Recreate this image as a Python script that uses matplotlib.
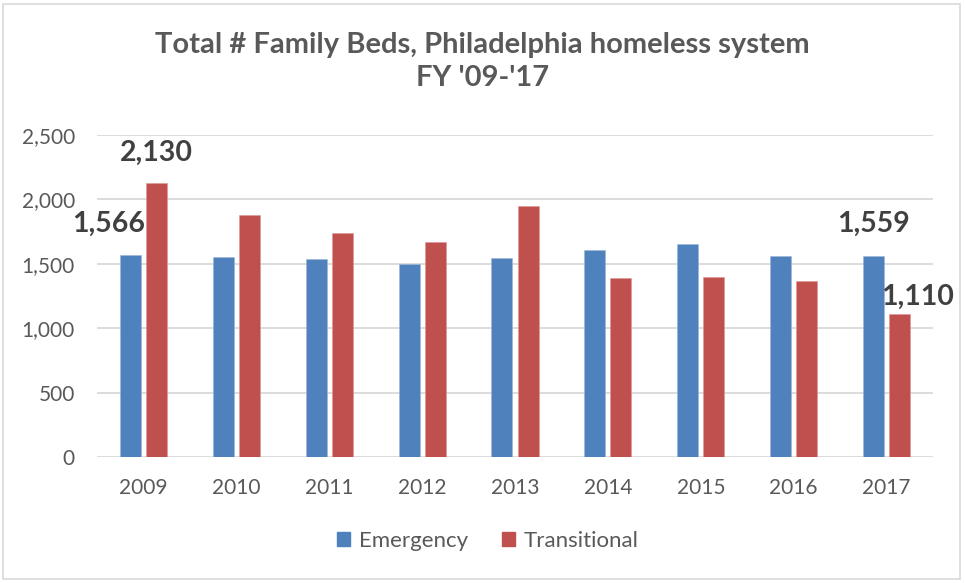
import matplotlib
matplotlib.use("Agg")
import matplotlib.pyplot as plt
import numpy as np
from matplotlib.patches import Rectangle, Patch
from matplotlib.ticker import FuncFormatter

BLUE = "#4F81BD"; RED = "#C0504D"
GREY = "#595959"; DARK = "#404040"; GRID = "#D9D9D9"
plt.rcParams["font.family"] = ["Lato", "DejaVu Sans"]

years = ["2009", "2010", "2011", "2012", "2013", "2014", "2015", "2016", "2017"]
emergency = [1566, 1549, 1534, 1495, 1542, 1604, 1653, 1562, 1559]
transitional = [2130, 1882, 1742, 1669, 1949, 1386, 1394, 1368, 1110]
series_names = ["Emergency", "Transitional"]

W, H = 965, 583
fig = plt.figure(figsize=(W / 100, H / 100), dpi=100)
fig.patch.set_facecolor("white")
fig.patches.append(Rectangle((3 / W, 4 / H), (957) / W, (575) / H, transform=fig.transFigure,
                             fill=False, ec=GRID, lw=1.2))

ax = fig.add_axes([97 / W, 1 - 457 / H, (933 - 97) / W, (457 - 135) / H])
x = np.arange(len(years))
bw, off = 0.226, 0.14
b_em = ax.bar(x - off, emergency, bw, color=BLUE, ec="#9DB6D8", lw=0.4, zorder=3)
b_tr = ax.bar(x + off, transitional, bw, color=RED, ec="#DC9896", lw=0.4, zorder=3)

ax.set_xlim(-0.5, len(years) - 0.5)
ax.set_ylim(0, 2500)
ax.set_yticks(range(0, 2501, 500))
ax.yaxis.set_major_formatter(FuncFormatter(lambda v, _: f"{int(v):,}"))
ax.set_xticks(x)
ax.set_xticklabels(years)
ax.grid(axis="y", color=GRID, lw=1.3, zorder=0)
ax.set_axisbelow(True)
for s in ax.spines.values():
    s.set_visible(False)
ax.tick_params(axis="both", length=0, colors=GREY, labelsize=15)
ax.tick_params(axis="y", pad=16)
ax.tick_params(axis="x", pad=15)

# value callouts on first and last years
callouts = [
    (b_em[0], emergency[0], -22, 31),
    (b_tr[0], transitional[0], 0, 30),
    (b_em[-1], emergency[-1], 0, 32),
    (b_tr[-1], transitional[-1], 18, 17),
]
for bar, val, dx, dy in callouts:
    cx = bar.get_x() + bar.get_width() / 2
    ax.annotate(f"{val:,}", (cx, val), xytext=(dx * 0.72, dy * 0.72), textcoords="offset points",
                ha="center", va="center", fontsize=20.5, fontweight="bold", color=DARK, zorder=5)

fig.text(0.5, 1 - 45 / H, "Total # Family Beds, Philadelphia homeless system",
         ha="center", va="center", fontsize=21, fontweight="bold", color=GREY)
fig.text(0.5, 1 - 78 / H, "FY '09-'17", ha="center", va="center", fontsize=21,
         fontweight="bold", color=GREY)

handles = [Patch(color=BLUE), Patch(color=RED)]
fig.legend(handles, series_names, loc="center", bbox_to_anchor=(488 / W, 1 - 541 / H), ncol=2,
           frameon=False, fontsize=16, labelcolor=GREY, handlelength=0.6, handleheight=0.6,
           handletextpad=0.4, columnspacing=1.5)

fig.savefig("out.png", dpi=100, facecolor="white")
